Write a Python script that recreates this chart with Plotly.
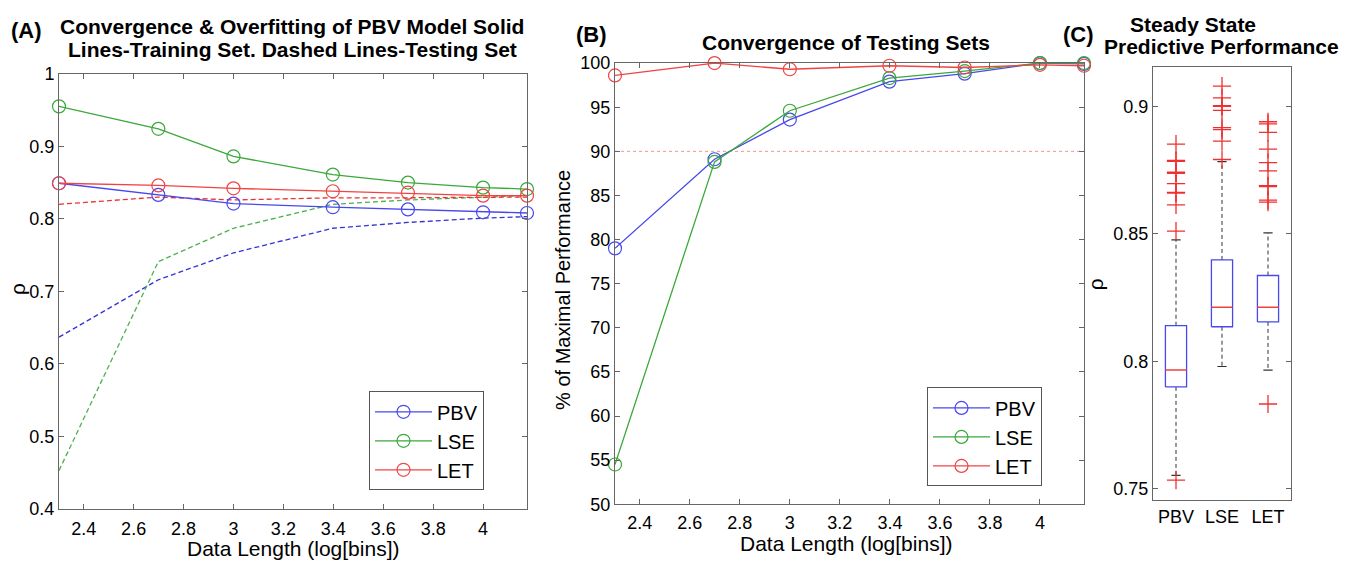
import plotly.graph_objects as go

W, H = 1358, 576
FONT = "Liberation Sans, Arial, sans-serif"

# ---------------- data ----------------
data_length = [2.301, 2.699, 3.0, 3.398, 3.699, 4.0, 4.176]
methods = ["PBV", "LSE", "LET"]

# Panel A: correlation (rho), training (solid) and testing (dashed)
pbv_train = [0.849, 0.833, 0.821, 0.816, 0.813, 0.809, 0.808]
lse_train = [0.955, 0.924, 0.886, 0.861, 0.850, 0.843, 0.841]
let_train = [0.849, 0.846, 0.842, 0.838, 0.836, 0.832, 0.832]
pbv_test = [0.637, 0.716, 0.753, 0.787, 0.795, 0.801, 0.803]
lse_test = [0.453, 0.741, 0.787, 0.820, 0.826, 0.830, 0.832]
let_test = [0.820, 0.830, 0.826, 0.829, 0.829, 0.830, 0.830]

# Panel B: % of maximal performance (testing sets)
pbv_pct = [79.0, 89.1, 93.6, 97.9, 98.8, 100.0, 99.9]
lse_pct = [54.5, 88.8, 94.6, 98.3, 99.1, 100.0, 100.0]
let_pct = [98.6, 100.0, 99.3, 99.7, 99.5, 99.8, 99.7]
threshold_pct = 90

# Panel C: steady-state box statistics
box_q1 = [0.790, 0.8136, 0.8155]
box_median = [0.7966, 0.8212, 0.8212]
box_q3 = [0.814, 0.8398, 0.8337]
box_low = [0.7553, 0.798, 0.7966]
box_high = [0.8477, 0.8784, 0.8504]
outliers = [
    [0.8852, 0.8788, 0.8785, 0.8742, 0.8738, 0.8697, 0.8663, 0.8660, 0.8614, 0.8511, 0.7534],
    [0.9080, 0.9034, 0.9003, 0.9000, 0.8985, 0.8917, 0.8909, 0.8864, 0.8792],
    [0.8940, 0.8932, 0.8898, 0.8833, 0.8780, 0.8747, 0.8689, 0.8686, 0.8633, 0.8625, 0.7833],
]

colors = {"PBV": "#4848ee", "LSE": "#3aa83a", "LET": "#f04444"}
dash_colors = {"PBV": "#3434d8", "LSE": "#4fb04f", "LET": "#ee3030"}

fig = go.Figure()

train = {"PBV": pbv_train, "LSE": lse_train, "LET": let_train}
test = {"PBV": pbv_test, "LSE": lse_test, "LET": let_test}
pct = {"PBV": pbv_pct, "LSE": lse_pct, "LET": let_pct}

# Panel A
for m in methods:
    fig.add_trace(go.Scatter(x=data_length, y=test[m], mode="lines",
                             line=dict(color=dash_colors[m], width=1.3, dash="5px,3px"),
                             xaxis="x", yaxis="y", showlegend=False, cliponaxis=False))
for m in methods:
    fig.add_trace(go.Scatter(x=data_length, y=train[m], mode="lines+markers", name=m,
                             line=dict(color=colors[m], width=1.3),
                             marker=dict(symbol="circle-open", size=13, color=colors[m], line=dict(width=1.2)),
                             xaxis="x", yaxis="y", legend="legend", cliponaxis=False))

# Panel B
fig.add_trace(go.Scatter(x=[data_length[0], data_length[-1]], y=[threshold_pct, threshold_pct],
                         mode="lines", line=dict(color="#f59090", width=1, dash="dot"),
                         xaxis="x2", yaxis="y2", showlegend=False))
for m in methods:
    fig.add_trace(go.Scatter(x=data_length, y=pct[m], mode="lines+markers", name=m,
                             line=dict(color=colors[m], width=1.3),
                             marker=dict(symbol="circle-open", size=13, color=colors[m], line=dict(width=1.2)),
                             xaxis="x2", yaxis="y2", legend="legend2", cliponaxis=False))

# Panel C
pos = [1, 2, 3]
bw = 0.46
cap = 0.2
for i, m in enumerate(methods):
    p = pos[i]
    # whiskers
    fig.add_trace(go.Scatter(x=[p, p, None, p, p], y=[box_q3[i], box_high[i], None, box_q1[i], box_low[i]],
                             mode="lines", line=dict(color="#333333", width=1, dash="4px,3px"),
                             xaxis="x3", yaxis="y3", showlegend=False))
    fig.add_trace(go.Scatter(x=[p - cap / 2, p + cap / 2, None, p - cap / 2, p + cap / 2],
                             y=[box_high[i], box_high[i], None, box_low[i], box_low[i]],
                             mode="lines", line=dict(color="#333333", width=1.2),
                             xaxis="x3", yaxis="y3", showlegend=False))
    # box
    fig.add_trace(go.Scatter(x=[p - bw / 2, p + bw / 2, p + bw / 2, p - bw / 2, p - bw / 2],
                             y=[box_q1[i], box_q1[i], box_q3[i], box_q3[i], box_q1[i]],
                             mode="lines", fill="toself", fillcolor="white",
                             line=dict(color="#4848ee", width=1.3),
                             xaxis="x3", yaxis="y3", showlegend=False))
    # median
    fig.add_trace(go.Scatter(x=[p - bw / 2, p + bw / 2], y=[box_median[i], box_median[i]],
                             mode="lines", line=dict(color="#f04040", width=1.5),
                             xaxis="x3", yaxis="y3", showlegend=False))
    # outliers
    fig.add_trace(go.Scatter(x=[p] * len(outliers[i]), y=outliers[i], mode="markers",
                             marker=dict(symbol="cross-thin", size=13, line=dict(color="#f03030", width=1.3)),
                             xaxis="x3", yaxis="y3", showlegend=False, cliponaxis=False))

def px_x(v):
    return v / W

def px_y(v):
    return 1 - v / H

TICK = 18
axis_common = dict(showline=True, linecolor="#666666", linewidth=1, mirror="ticks",
                   ticks="inside", ticklen=5, tickcolor="#666666", showgrid=False,
                   zeroline=False, tickfont=dict(size=TICK, color="black", family=FONT))

xticks = [2.4, 2.6, 2.8, 3.0, 3.2, 3.4, 3.6, 3.8, 4.0]

fig.update_layout(
    width=W, height=H, margin=dict(l=0, r=0, t=0, b=0),
    paper_bgcolor="white", plot_bgcolor="white",
    font=dict(family=FONT, color="black"),
    xaxis=dict(domain=[px_x(59), px_x(527)], range=[2.301, 4.176], tickvals=xticks,
               anchor="y", ticklabelstandoff=3, **axis_common),
    yaxis=dict(domain=[px_y(517), px_y(66)], range=[0.4, 1.0], dtick=0.1, tick0=0.4,
               anchor="x", **axis_common),
    xaxis2=dict(domain=[px_x(615), px_x(1084)], range=[2.301, 4.176], tickvals=xticks,
                anchor="y2", ticklabelstandoff=2, **axis_common),
    yaxis2=dict(domain=[px_y(512), px_y(55)], range=[50, 100], dtick=5, tick0=50,
                anchor="x2", **axis_common),
    xaxis3=dict(domain=[px_x(1153), px_x(1291)], range=[0.5, 3.5], tickvals=pos, ticktext=methods,
                anchor="y3", showline=True, linecolor="#666666", linewidth=1, mirror=True,
                ticks="", showgrid=False, zeroline=False,
                tickfont=dict(size=TICK, color="black", family=FONT)),
    yaxis3=dict(domain=[px_y(508), px_y(59)], range=[0.7455, 0.9155],
                tickvals=[0.75, 0.8, 0.85, 0.9], anchor="x3", **axis_common),
    legend=dict(x=px_x(369), y=px_y(395), xanchor="left", yanchor="top",
                bordercolor="#555555", borderwidth=1, bgcolor="white",
                font=dict(size=20, family=FONT), tracegroupgap=0, itemwidth=57),
    legend2=dict(x=px_x(927), y=px_y(391), xanchor="left", yanchor="top",
                 bordercolor="#555555", borderwidth=1, bgcolor="white",
                 font=dict(size=20, family=FONT), tracegroupgap=0, itemwidth=57),
)

def ann(text, x, y, size, bold=False, angle=0):
    t = f"<b>{text}</b>" if bold else text
    fig.add_annotation(text=t, x=px_x(x), y=px_y(y), xref="paper", yref="paper",
                       xanchor="center", yanchor="middle", showarrow=False, textangle=angle,
                       font=dict(size=size, family=FONT, color="black"))

TTL = 21
ann("(A)", 26, 21, 22, bold=True)
ann("Convergence &amp; Overfitting of PBV Model Solid", 292, 17, TTL, bold=True)
ann("Lines-Training Set. Dashed Lines-Testing Set", 292, 41, TTL, bold=True)
ann("Data Length (log[bins])", 293, 558, 21)
ann("ρ", 18, 289, 21, angle=-90)

ann("(B)", 591, 25, 22, bold=True)
ann("Convergence of Testing Sets", 846, 34, TTL, bold=True)
ann("Data Length (log[bins])", 846, 553, 21)
ann("% of Maximal Performance", 563, 290, 20, angle=-90)

ann("(C)", 1078, 25, 22, bold=True)
ann("Steady State", 1193, 15, TTL, bold=True)
ann("Predictive Performance", 1221, 38, TTL, bold=True)
ann("ρ", 1095, 284, 21, angle=-90)

fig.write_html("out.html")
